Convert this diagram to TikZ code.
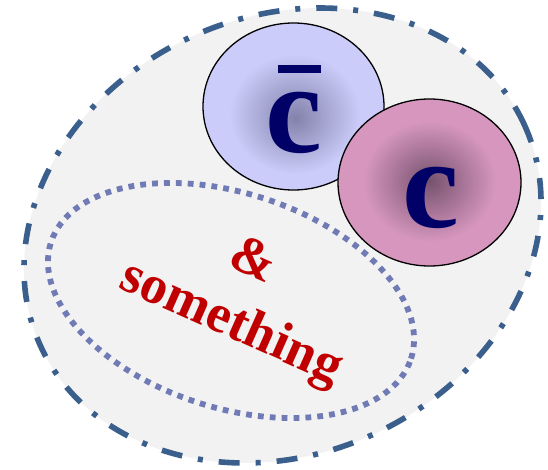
\documentclass[tikz,border=0pt]{standalone}
\usepackage{fontspec}
\setmainfont{Liberation Serif}
\definecolor{outerline}{RGB}{58,95,140}
\definecolor{innerline}{RGB}{112,122,181}
\definecolor{bgfill}{RGB}{242,242,242}
\definecolor{cbarin}{RGB}{130,130,172}
\definecolor{cbarout}{RGB}{204,204,250}
\definecolor{cin}{RGB}{118,82,110}
\definecolor{cout}{RGB}{214,150,190}
\definecolor{quark}{RGB}{0,0,102}
\definecolor{labelred}{RGB}{192,0,0}
\pgfdeclareradialshading{cbarshade}{\pgfpoint{0.5bp}{-3.5bp}}{color(0bp)=(cbarin); color(18bp)=(cbarout); color(50bp)=(cbarout)}
\pgfdeclareradialshading{cshade}{\pgfpoint{0bp}{0.5bp}}{color(0bp)=(cin); color(18bp)=(cout); color(50bp)=(cout)}
\begin{document}
\begin{tikzpicture}[x=1pt,y=1pt,
  outerring/.style={draw=outerline, line width=5.6pt, dash pattern=on 21pt off 16pt on 5pt off 16pt, fill=bgfill},
  innerring/.style={draw=innerline, line width=5.8pt, dash pattern=on 5.8pt off 6.1pt},
  quarkball/.style={draw=black, line width=1.3pt},
  quarklabel/.style={text=quark, font=\fontsize{128}{128}\selectfont\bfseries, inner sep=0pt, anchor=base},
  redlabel/.style={text=labelred, font=\fontsize{54}{54}\selectfont\bfseries, inner sep=0pt, rotate=-24}]
\useasboundingbox (0,0) rectangle (548,469);
\path[outerring, rotate around={24.5:(282.5,233.5)}] (282.5,233.5) ellipse [x radius=266, y radius=218.6];
\path[innerring, rotate around={-17.9:(231,168.5)}] (231,168.5) ellipse [x radius=189.2, y radius=107.3];
\path[quarkball, shading=cbarshade] (293.5,362.5) ellipse [x radius=90.5, y radius=83.5];
\path[quarkball, shading=cshade] (429.5,286.5) ellipse [x radius=91.5, y radius=83.5];
\node[quarklabel] (cbar) at (294,316) {\makebox[0pt][l]{\hspace{12.4pt}\raisebox{80pt}{\rule{43pt}{8pt}}}c};
\node[quarklabel] (cq) at (430.5,241) {c};
\node[redlabel, anchor=base] (something) at (225.6,132.9) {something};
\node[redlabel, anchor=center] (amp) at (254,211) {\&};
\end{tikzpicture}
\end{document}
